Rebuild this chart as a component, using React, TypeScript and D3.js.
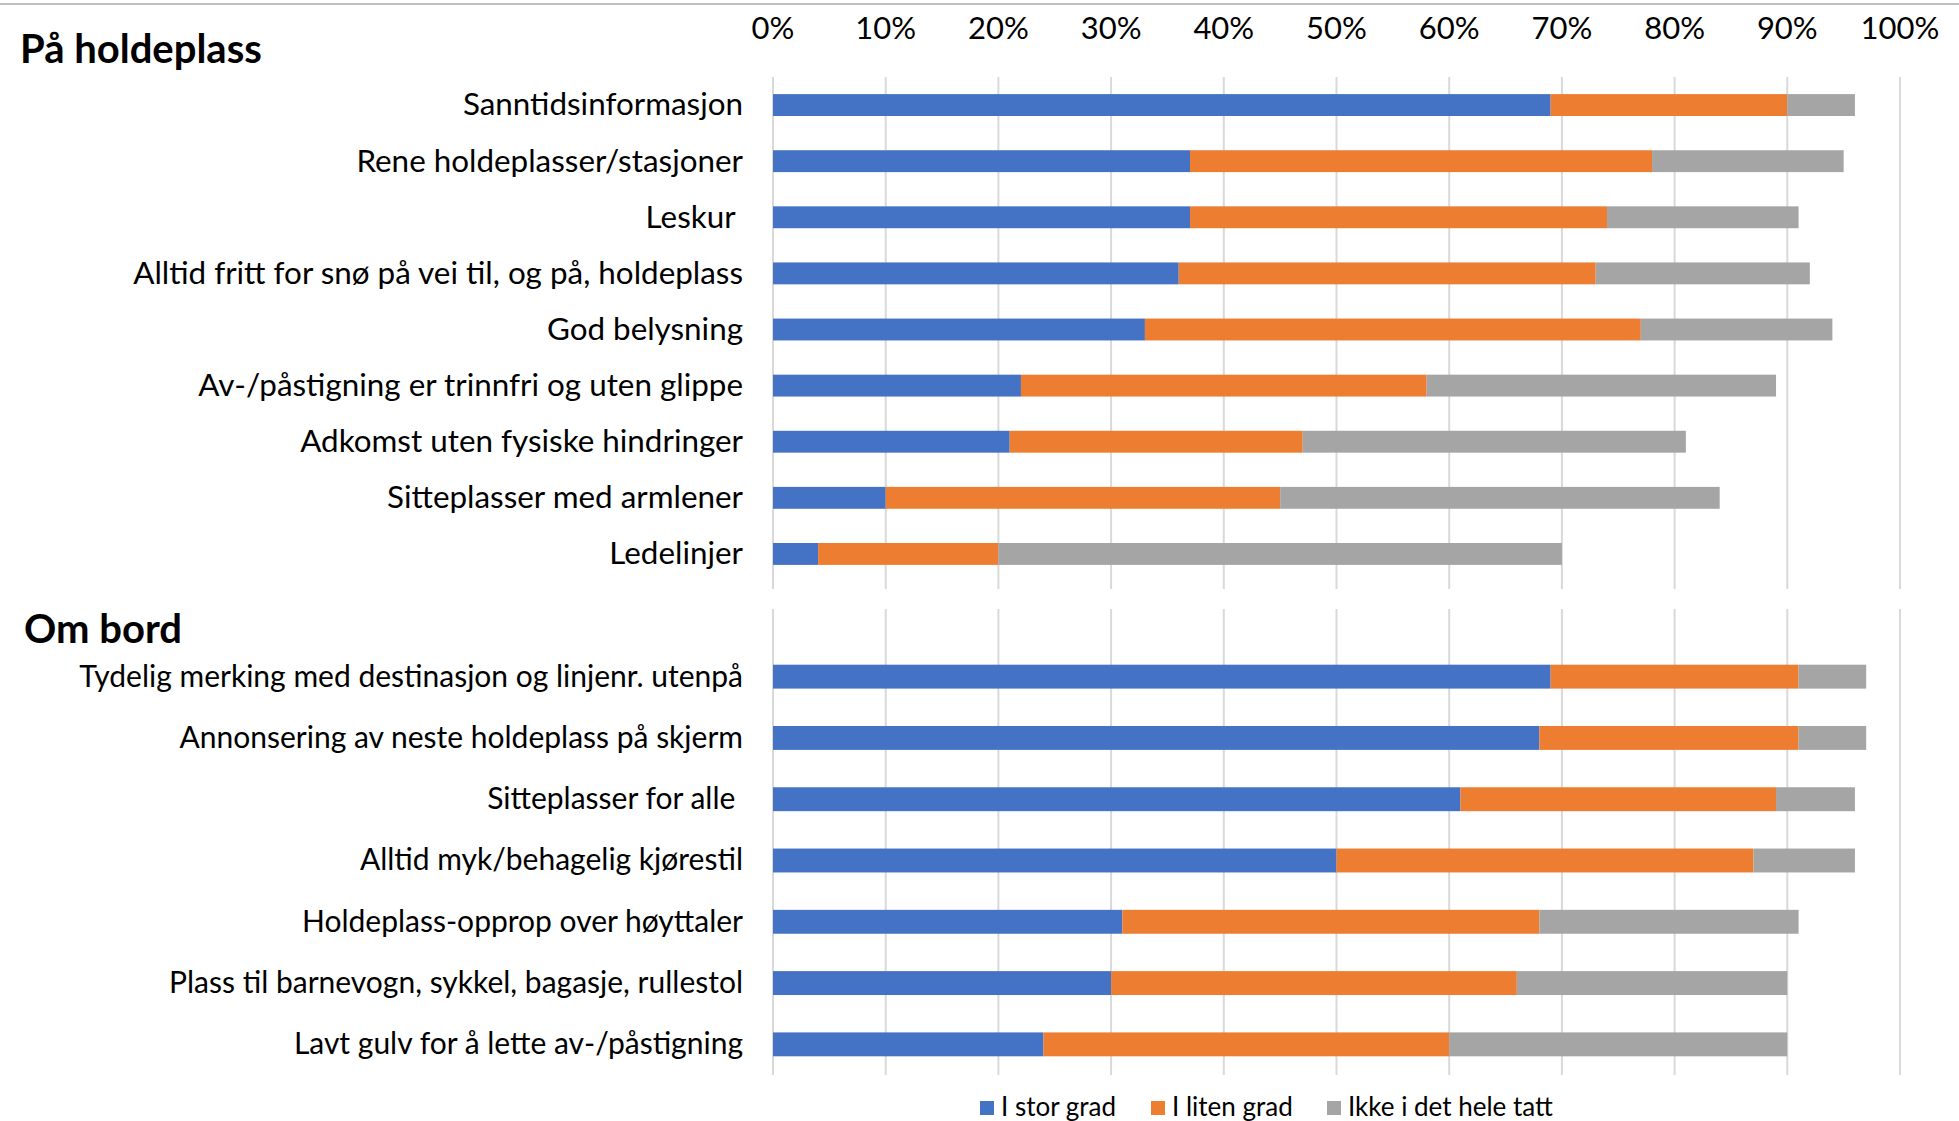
import * as d3 from "d3";

// survey: how much do these factors matter
const seriesKeys = ["I stor grad", "I liten grad", "Ikke i det hele tatt"];
const seriesColors = ["#4472C4", "#ED7D31", "#A5A5A5"];

const topTitle = "På holdeplass";
const topCategories = [
  "Sanntidsinformasjon",
  "Rene holdeplasser/stasjoner",
  "Leskur ",
  "Alltid fritt for snø på vei til, og på, holdeplass",
  "God belysning",
  "Av-/påstigning er trinnfri og uten glippe",
  "Adkomst uten fysiske hindringer",
  "Sitteplasser med armlener",
  "Ledelinjer",
];
const topStor = [69, 37, 37, 36, 33, 22, 21, 10, 4];
const topLiten = [21, 41, 37, 37, 44, 36, 26, 35, 16];
const topIkke = [6, 17, 17, 19, 17, 31, 34, 39, 50];

const bottomTitle = "Om bord";
const bottomCategories = [
  "Tydelig merking med destinasjon og linjenr. utenpå",
  "Annonsering av neste holdeplass på skjerm",
  "Sitteplasser for alle ",
  "Alltid myk/behagelig kjørestil",
  "Holdeplass-opprop over høyttaler",
  "Plass til barnevogn, sykkel, bagasje, rullestol",
  "Lavt gulv for å lette av-/påstigning",
];
const bottomStor = [69, 68, 61, 50, 31, 30, 24];
const bottomLiten = [22, 23, 28, 37, 37, 36, 36];
const bottomIkke = [6, 6, 7, 9, 23, 24, 30];

const tickValues = [0, 10, 20, 30, 40, 50, 60, 70, 80, 90, 100];

const WIDTH = 1959;
const HEIGHT = 1121;
const FONT = "Lato, 'Open Sans', sans-serif";
const LABEL_X = 743;

const x = d3.scaleLinear().domain([0, 100]).range([773, 1900]);

type PanelProps = {
  categories: string[];
  stor: number[];
  liten: number[];
  ikke: number[];
  bandRange: [number, number];
  gridTop: number;
  gridBottom: number;
  labelSize: number;
};

const Panel = ({ categories, stor, liten, ikke, bandRange, gridTop, gridBottom, labelSize }: PanelProps) => {
  const rows = categories.map((c, i) => ({
    cat: c,
    [seriesKeys[0]]: stor[i],
    [seriesKeys[1]]: liten[i],
    [seriesKeys[2]]: ikke[i],
  }));
  const stacked = d3.stack<any>().keys(seriesKeys)(rows);
  const y = d3
    .scaleBand()
    .domain(categories)
    .range(bandRange)
    .paddingInner(0.61)
    .paddingOuter(0.305);

  return (
    <g>
      {tickValues.map((t) => (
        <line
          key={t}
          x1={x(t)}
          x2={x(t)}
          y1={gridTop}
          y2={gridBottom}
          stroke="#D9D9D9"
          strokeWidth={2}
        />
      ))}
      {stacked.map((layer, si) =>
        layer.map((d, i) => (
          <rect
            key={si + "-" + i}
            x={x(d[0])}
            width={x(d[1]) - x(d[0])}
            y={y(categories[i])}
            height={y.bandwidth()}
            fill={seriesColors[si]}
          />
        ))
      )}
      {categories.map((c) => (
        <text
          key={c}
          x={LABEL_X}
          y={(y(c) as number) + y.bandwidth() / 2}
          dy="0.33em"
          textAnchor="end"
          fontSize={labelSize}
          fill="#000"
          style={{ whiteSpace: "pre" }}
        >
          {c}
        </text>
      ))}
    </g>
  );
};

const legendOffsets = [980, 1151, 1327];

export default function App() {
  return (
    <div style={{ position: "absolute", left: 0, top: 0 }}>
      <svg width={WIDTH} height={HEIGHT} fontFamily={FONT}>
        <rect width={WIDTH} height={HEIGHT} fill="#fff" />
        <line x1={0} x2={WIDTH} y1={4} y2={4} stroke="#BFBFBF" strokeWidth={2} />

        {tickValues.map((t) => (
          <text key={t} x={x(t)} y={39} textAnchor="middle" fontSize={31} fill="#000">
            {t + "%"}
          </text>
        ))}

        <text x={20} y={63} fontSize={40} fontWeight="bold" fill="#000">
          {topTitle}
        </text>
        <Panel
          categories={topCategories}
          stor={topStor}
          liten={topLiten}
          ikke={topIkke}
          bandRange={[77, 582]}
          gridTop={77}
          gridBottom={589}
          labelSize={31.4}
        />

        <text x={24} y={643} fontSize={40} fontWeight="bold" fill="#000">
          {bottomTitle}
        </text>
        <Panel
          categories={bottomCategories}
          stor={bottomStor}
          liten={bottomLiten}
          ikke={bottomIkke}
          bandRange={[646, 1075]}
          gridTop={609}
          gridBottom={1075}
          labelSize={30}
        />

        {seriesKeys.map((k, i) => (
          <g key={k} transform={`translate(${legendOffsets[i]},0)`}>
            <rect x={0} y={1101} width={14} height={14} fill={seriesColors[i]} />
            <text x={21} y={1116} fontSize={26} fill="#000">
              {k}
            </text>
          </g>
        ))}
      </svg>
    </div>
  );
}
